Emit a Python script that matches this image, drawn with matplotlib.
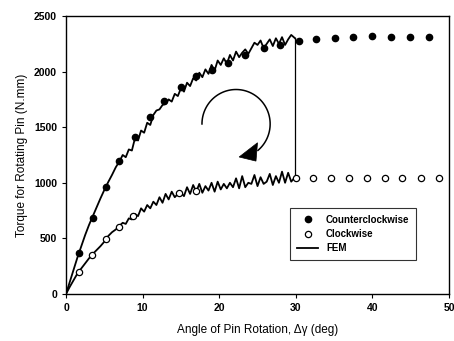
import numpy as np
import matplotlib.pyplot as plt
from matplotlib.patches import Polygon

plt.rcParams['font.family'] = ['Liberation Sans', 'DejaVu Sans']

# measured points, counterclockwise (filled)
ccw_x = [1.7, 3.5, 5.2, 6.9, 9.0, 10.9, 12.8, 15.0, 17.0, 19.0, 21.2, 23.4, 25.8, 28.0,
         30.4, 32.7, 35.1, 37.5, 40.0, 42.4, 44.9, 47.4]
ccw_y = [369, 686, 965, 1200, 1415, 1595, 1736, 1864, 1960, 2014, 2080, 2150, 2209, 2239,
         2278, 2290, 2305, 2314, 2316, 2314, 2312, 2310]

# measured points, clockwise (open)
cw_x = [1.7, 3.4, 5.2, 6.9, 8.7, 14.8, 17.0, 30.0, 32.3, 34.6, 37.0, 39.3, 41.6, 43.9, 46.4, 48.7]
cw_y = [200, 351, 495, 605, 701, 905, 929, 1040, 1045, 1045, 1045, 1045, 1045, 1045, 1045, 1045]

# FEM, counterclockwise branch
fem_ccw_x = [0, 0.5, 1, 1.5, 2, 2.5, 3, 3.5, 4, 4.5, 5, 5.5, 6, 6.5, 7, 7.4, 7.8, 8.2, 8.6,
             9.0, 9.4, 9.8, 10.2, 10.6, 11.0, 11.4, 11.8, 12.2, 12.6, 13.0, 13.4, 13.8, 14.2,
             14.6, 15.0, 15.4, 15.8, 16.2, 16.6, 17.0, 17.4, 17.8, 18.2, 18.6, 19.0, 19.4,
             19.8, 20.2, 20.6, 21.0, 21.4, 21.8, 22.2, 22.6, 23.0, 23.4, 23.8, 24.2, 24.6,
             25.0, 25.4, 25.8, 26.2, 26.6, 27.0, 27.4, 27.8, 28.2, 28.6, 29.0, 29.4, 29.9]
fem_ccw_y = [0, 110, 220, 330, 430, 530, 620, 700, 780, 860, 935, 1005, 1070, 1140, 1195,
             1250, 1230, 1300, 1290, 1400, 1380, 1470, 1450, 1540, 1520, 1610, 1650, 1660,
             1700, 1710, 1750, 1730, 1800, 1780, 1850, 1820, 1900, 1870, 1940, 1920, 1990,
             1950, 2020, 1980, 2060, 2010, 2100, 2060, 2120, 2070, 2150, 2100, 2180, 2130,
             2170, 2200, 2160, 2210, 2260, 2240, 2280, 2210, 2250, 2290, 2230, 2300, 2250,
             2310, 2240, 2290, 2330, 2300]

# FEM, clockwise branch
fem_cw_x = [0, 0.5, 1, 1.5, 2, 2.5, 3, 3.5, 4, 4.5, 5, 5.5, 6, 6.5, 7, 7.4, 7.8, 8.2, 8.6,
            9.0, 9.4, 9.8, 10.2, 10.6, 11.0, 11.4, 11.8, 12.2, 12.6, 13.0, 13.4, 13.8, 14.2,
            14.6, 15.0, 15.4, 15.8, 16.2, 16.6, 17.0, 17.4, 17.8, 18.2, 18.6, 19.0, 19.4,
            19.8, 20.2, 20.6, 21.0, 21.4, 21.8, 22.2, 22.6, 23.0, 23.4, 23.8, 24.2, 24.6,
            25.0, 25.4, 25.8, 26.2, 26.6, 27.0, 27.4, 27.8, 28.2, 28.6, 29.0, 29.4, 29.9]
fem_cw_y = [0, 65, 125, 185, 230, 275, 320, 360, 395, 430, 470, 520, 555, 580, 615, 640,
            630, 680, 670, 720, 700, 770, 740, 800, 770, 830, 800, 870, 820, 900, 850, 920,
            870, 900, 910, 880, 960, 900, 980, 920, 990, 910, 970, 930, 1000, 920, 1010,
            940, 990, 950, 1000, 960, 1040, 950, 1060, 960, 1000, 990, 1070, 970, 1050, 990,
            1010, 1080, 980, 1060, 1000, 1100, 1000, 1090, 1010, 1050]

# unloading drop at end of the FEM run
drop_x = [29.9, 29.9]
drop_y = [2300, 1040]

fig = plt.figure(figsize=(4.54, 3.41), dpi=100)
ax = fig.add_axes([0.1454, 0.138, 0.8436, 0.815])

ax.plot(fem_ccw_x, fem_ccw_y, color='black', lw=1.3, label='FEM')
ax.plot(fem_cw_x, fem_cw_y, color='black', lw=1.3)
ax.plot(drop_x, drop_y, color='black', lw=0.9)
ax.plot(ccw_x, ccw_y, 'o', color='black', ms=4.5, label='Counterclockwise')
ax.plot(cw_x, cw_y, 'o', mfc='white', mec='black', mew=0.9, ms=4.5, label='Clockwise')

# rotation arrow (decoration)
t = np.radians(np.linspace(180, -50, 80))
ax.plot(22.2 + 4.45 * np.cos(t), 1529 + 310 * np.sin(t), color='black', lw=1.1)
ax.add_patch(Polygon([(22.6, 1232), (25.0, 1360), (24.8, 1195)], closed=True,
                     facecolor='black', edgecolor='black', lw=0.5))

ax.set_xlim(0, 50)
ax.set_ylim(0, 2500)
ax.set_xticks([0, 10, 20, 30, 40, 50])
ax.set_yticks([0, 500, 1000, 1500, 2000, 2500])
ax.tick_params(direction='out', length=3, width=0.8, labelsize=7.5)
for lab in ax.get_xticklabels() + ax.get_yticklabels():
    lab.set_fontweight('bold')
for s in ax.spines.values():
    s.set_linewidth(1.0)

ax.set_xlabel('Angle of Pin Rotation, Δγ (deg)', fontsize=8.5, labelpad=8)
ax.set_ylabel('Torque for Rotating Pin (N.mm)', fontsize=8.5)

h, l = ax.get_legend_handles_labels()
order = [1, 2, 0]
leg = ax.legend([h[i] for i in order], [l[i] for i in order], loc='upper left',
                bbox_to_anchor=(0.585, 0.31), fontsize=7, frameon=True, fancybox=False,
                edgecolor='black', handlelength=2.2, borderpad=0.7, labelspacing=0.45,
                borderaxespad=0)
leg.get_frame().set_linewidth(0.8)
for t in leg.get_texts():
    t.set_fontweight('bold')

fig.savefig('out.png', dpi=100)
